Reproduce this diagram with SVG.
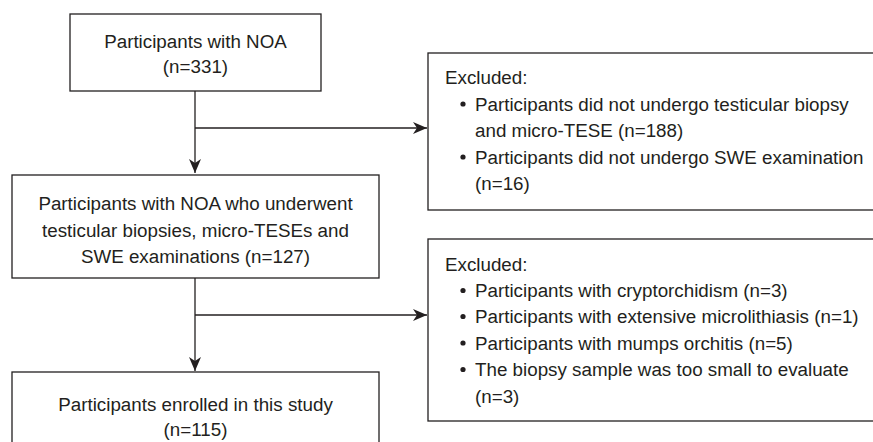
<svg xmlns="http://www.w3.org/2000/svg" width="873" height="442" viewBox="0 0 873 442">
<defs>
<style>
.box{fill:#ffffff;stroke:#231f20;stroke-width:1.3}
.t{font-family:"Liberation Sans",Arial,sans-serif;font-size:18.8px;fill:#231f20}
.c{text-anchor:middle}
.ln{fill:none;stroke:#231f20;stroke-width:1.3}
.dot{fill:#231f20}
</style>
<marker id="ah" viewBox="0 0 14 12" refX="14" refY="6" markerWidth="14" markerHeight="12" markerUnits="userSpaceOnUse" orient="auto">
<path d="M0,0 L14,6 L0,12 L4,6 Z" fill="#231f20"/>
</marker>
</defs>
<rect width="873" height="442" fill="#ffffff"/>
<g id="connectors">
<line class="ln" x1="195" y1="91" x2="195" y2="173" marker-end="url(#ah)"/>
<line class="ln" x1="195" y1="128" x2="427" y2="128" marker-end="url(#ah)"/>
<line class="ln" x1="195" y1="278" x2="195" y2="371" marker-end="url(#ah)"/>
<line class="ln" x1="195" y1="315" x2="427" y2="315" marker-end="url(#ah)"/>
</g>
<g id="n1">
<rect class="box" x="70" y="14" width="251" height="77"/>
<text class="t c" x="195.5" y="48">Participants with NOA</text>
<text class="t c" x="195.5" y="73">(n=331)</text>
</g>
<g id="n2">
<rect class="box" x="12" y="175" width="367" height="103"/>
<text class="t c" x="195.5" y="210">Participants with NOA who underwent</text>
<text class="t c" x="195.5" y="236.5">testicular biopsies, micro-TESEs and</text>
<text class="t c" x="195.5" y="263">SWE examinations (n=127)</text>
</g>
<g id="n3">
<rect class="box" x="12" y="372" width="367" height="90"/>
<text class="t c" x="195.5" y="411">Participants enrolled in this study</text>
<text class="t c" x="195.5" y="436">(n=115)</text>
</g>
<g id="ex1">
<rect class="box" x="428" y="53" width="470" height="157"/>
<text class="t" x="445" y="84">Excluded:</text>
<circle class="dot" cx="463" cy="104" r="2.6"/>
<text class="t" x="475" y="110.5">Participants did not undergo testicular biopsy</text>
<text class="t" x="475" y="137">and micro-TESE (n=188)</text>
<circle class="dot" cx="463" cy="157" r="2.6"/>
<text class="t" x="475" y="163.5">Participants did not undergo SWE examination</text>
<text class="t" x="475" y="190">(n=16)</text>
</g>
<g id="ex2">
<rect class="box" x="428" y="239" width="470" height="182"/>
<text class="t" x="445" y="271">Excluded:</text>
<circle class="dot" cx="463" cy="290.5" r="2.6"/>
<text class="t" x="475" y="297">Participants with cryptorchidism (n=3)</text>
<circle class="dot" cx="463" cy="316.5" r="2.6"/>
<text class="t" x="475" y="323">Participants with extensive microlithiasis (n=1)</text>
<circle class="dot" cx="463" cy="343" r="2.6"/>
<text class="t" x="475" y="349.5">Participants with mumps orchitis (n=5)</text>
<circle class="dot" cx="463" cy="369.5" r="2.6"/>
<text class="t" x="475" y="376">The biopsy sample was too small to evaluate</text>
<text class="t" x="475" y="403">(n=3)</text>
</g>
</svg>
